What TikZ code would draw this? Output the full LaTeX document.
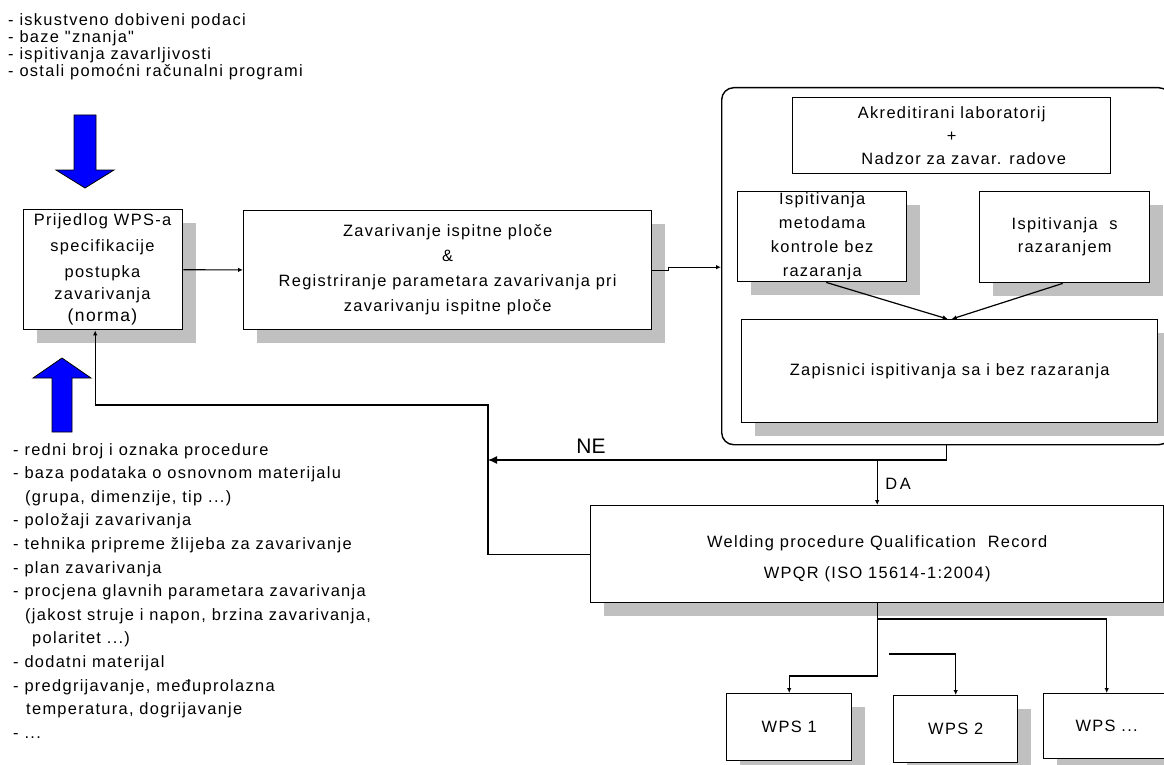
\documentclass[tikz,border=0pt]{standalone}
\usepackage{fontspec}
\setmainfont{Liberation Sans}
\newfontfamily\pix[LetterSpace=8]{Liberation Sans}
\usetikzlibrary{shadows,arrows.meta,calc}
\definecolor{shgray}{RGB}{192,192,192}
\definecolor{arrblue}{RGB}{0,0,255}
\begin{document}
\begin{tikzpicture}[x=1pt,y=-1pt,
  box/.style={draw, line width=1.4pt, fill=white, inner sep=0pt, anchor=north west, align=center, font=\pix\fontsize{16.4}{24}\selectfont},
  shbox/.style={box, drop shadow={shadow xshift=13pt, shadow yshift=-13pt, fill=shgray, opacity=1}},
  txt/.style={inner sep=0pt, font=\pix\fontsize{16.4}{17}\selectfont},
  conn/.style={line width=1.2pt},
  smarr/.style={-{Latex[length=5pt,width=4.5pt]}},
  bigarr/.style={-{Latex[length=9pt,width=8pt]}},
  bluearrow/.style={fill=arrblue, draw=black, line width=0.8pt}
]
\fill[white] (0,0) rectangle (1164,765);
\useasboundingbox (0,0) rectangle (1164,765);

% top-left list
\node[txt, anchor=base west] (tl1) at (8,26) {- iskustveno dobiveni podaci};
\node[txt, anchor=base west] (tl2) at (8,43) {- baze "znanja"};
\node[txt, anchor=base west] (tl3) at (8,60) {- ispitivanja zavarljivosti};
\node[txt, anchor=base west] (tl4) at (8,77) {- ostali pomoćni računalni programi};

% blue arrows
\filldraw[bluearrow] (74,115) -- (96,115) -- (96,170) -- (114,170) -- (85,188) -- (56,170) -- (74,170) -- cycle;
\filldraw[bluearrow] (52,432) -- (72,432) -- (72,378) -- (91,378) -- (62,358) -- (33,378) -- (52,378) -- cycle;

% bottom-left list
\node[txt, anchor=base west] (bl1) at (13,455.0) {- redni broj i oznaka procedure};
\node[txt, anchor=base west] (bl2) at (13,478.6) {- baza podataka o osnovnom materijalu};
\node[txt, anchor=base west] (bl3) at (25,502.2) {(grupa, dimenzije, tip ...)};
\node[txt, anchor=base west] (bl4) at (13,525.8) {- položaji zavarivanja};
\node[txt, anchor=base west] (bl5) at (13,549.4) {- tehnika pripreme žlijeba za zavarivanje};
\node[txt, anchor=base west] (bl6) at (13,573.0) {- plan zavarivanja};
\node[txt, anchor=base west] (bl7) at (13,596.6) {- procjena glavnih parametara zavarivanja};
\node[txt, anchor=base west] (bl8) at (25,620.2) {(jakost struje i napon, brzina zavarivanja,};
\node[txt, anchor=base west] (bl9) at (32,643.8) {polaritet ...)};
\node[txt, anchor=base west] (bl10) at (13,667.4) {- dodatni materijal};
\node[txt, anchor=base west] (bl11) at (13,691.0) {- predgrijavanje, međuprolazna};
\node[txt, anchor=base west] (bl12) at (26,714.6) {temperatura, dogrijavanje};
\node[txt, anchor=base west] (bl13) at (13,738.2) {- ...};

% Prijedlog box
\node[shbox, minimum width=159pt, minimum height=120pt] (prij) at (23,209) {};
\node[txt, anchor=base] (p1) at (102.5,225) {Prijedlog WPS-a};
\node[txt, anchor=base] (p2) at (102.5,251) {specifikacije};
\node[txt, anchor=base] (p3) at (102.5,277) {postupka};
\node[txt, anchor=base] (p4) at (102.5,299) {zavarivanja};
\node[inner sep=0pt, anchor=base, font=\pix\fontsize{17.5}{18}\selectfont] (p5) at (102.5,321) {(norma)};

% Zavarivanje box
\node[shbox, minimum width=408pt, minimum height=119pt, font=\pix\fontsize{16.4}{25}\selectfont] (zav) at (243,210)
  {Zavarivanje ispitne ploče\\\&\\Registriranje parametara zavarivanja pri\\zavarivanju ispitne ploče};

% laboratory frame
\node[draw, line width=1.4pt, fill=white, rounded corners=12pt, inner sep=0pt, anchor=north west, minimum width=449pt, minimum height=357pt] (lab) at (721,87) {};
\node[box, minimum width=318pt, minimum height=76pt, font=\pix\fontsize{16.4}{23}\selectfont] (akr) at (792,97)
  {Akreditirani laboratorij\\+\\\hspace*{24pt}Nadzor za zavar. radove};
\node[shbox, minimum width=169pt, minimum height=90pt] (ndt) at (737,191)
  {Ispitivanja\\metodama\\kontrole bez\\razaranja};
\node[shbox, minimum width=170pt, minimum height=91pt, font=\pix\fontsize{16.4}{23}\selectfont] (dt) at (979,191)
  {Ispitivanja \ s\\razaranjem};
\node[shbox, minimum width=416pt, minimum height=103pt] (zap) at (741,319)
  {Zapisnici ispitivanja sa i bez razaranja};

% WPQR
\node[shbox, minimum width=573pt, minimum height=97pt] (wpqr) at (590,505) {};
\node[inner sep=0pt, align=center, font=\pix\fontsize{16.4}{31}\selectfont, yshift=-5pt] (wpqrt) at (wpqr.center)
  {Welding procedure Qualification \ Record\\WPQR (ISO 15614-1:2004)};

% WPS boxes
\node[shbox, minimum width=125pt, minimum height=67pt] (wps1) at (726,693) {WPS 1};
\node[shbox, minimum width=124pt, minimum height=67pt] (wps2) at (893,695) {WPS 2};
\node[shbox, minimum width=126pt, minimum height=65pt] (wpsn) at (1043,693) {WPS ...};

% connectors
\draw[conn, smarr] (prij) -- (zav);
\draw[conn, smarr] (zav.east) -- ++(16,0) -- ++(0,-3) coordinate (zj) -- (zj -| lab.west);
\draw[conn, smarr] ([xshift=4pt]ndt.south) -- ([xshift=-2pt]zap.north);
\draw[conn, smarr] ([xshift=-2pt]dt.south) -- ([xshift=2pt]zap.north);

\coordinate (nej) at (488,460);
\coordinate (fbtop) at (488,405);
\draw[conn, bigarr] (lab.south) |- (nej);
\draw[conn, smarr] (wpqr.west) -| (fbtop) -| ([xshift=-8pt]prij.south);
\draw[conn, smarr] (wpqr.north |- nej) -- (wpqr.north);

\coordinate (h1) at (0,676);
\coordinate (h2) at (0,619);
\coordinate (w2s) at (889,654);
\draw[conn, smarr] (wpqr.south) -- (wpqr.south |- h1) -| (wps1.north);
\draw[conn, smarr] (wpqr.south |- h2) -| (wpsn.north);
\draw[conn, smarr] (w2s) -| (wps2.north);

% labels
\node[inner sep=0pt, font=\fontsize{21}{21}\selectfont] (ne) at (591,446) {NE};
\node[inner sep=0pt, font=\pix\fontsize{16.4}{16}\selectfont] (da) at (898,484) {D\,A};
\end{tikzpicture}
\end{document}
